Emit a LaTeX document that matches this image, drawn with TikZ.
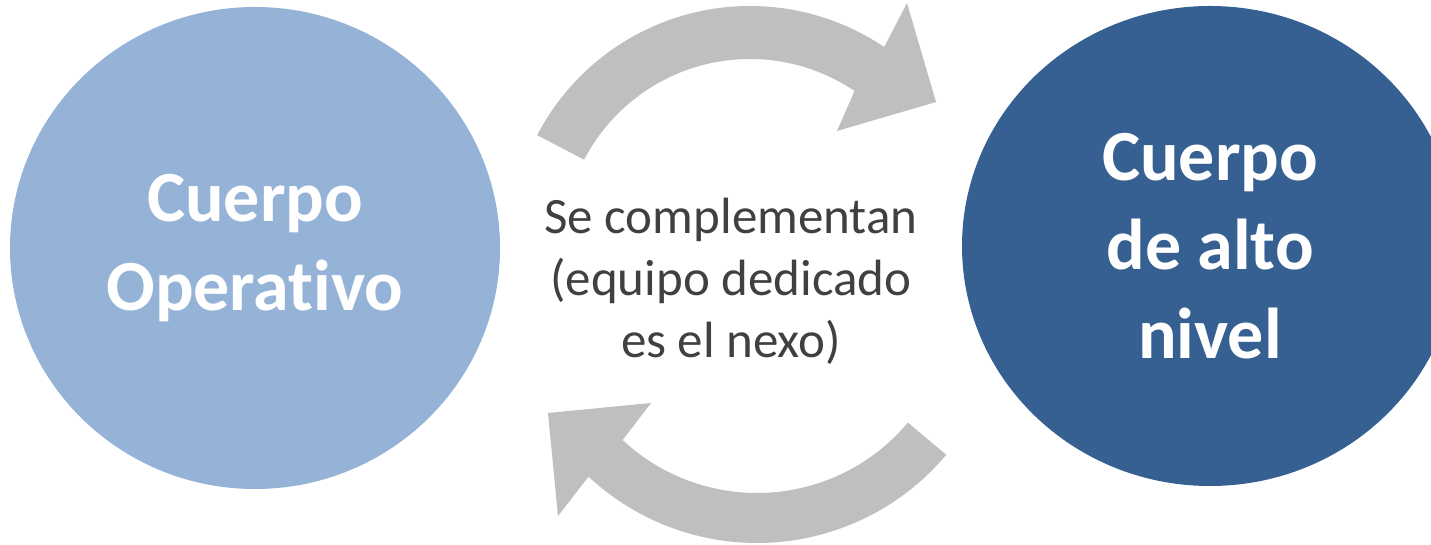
\documentclass[tikz,border=0pt]{standalone}
\usepackage{fontspec}
\setmainfont{Carlito}[Ligatures={NoCommon}]
\usepackage{tikz}
\usetikzlibrary{calc,shapes.geometric}

\definecolor{opblue}{HTML}{95B3D7}
\definecolor{altoblue}{HTML}{376092}
\definecolor{arrowgray}{HTML}{BFBFBF}
\definecolor{textgray}{HTML}{404040}

\begin{document}
\begin{tikzpicture}[x=1pt, y=1pt,
    cuerpo/.style={ellipse, fill=#1, draw=none, text=white, align=center,
        inner sep=0pt, font=\fontsize{72}{89}\selectfont\bfseries},
    nexo/.style={text=textgray, align=center, inner sep=0pt,
        font=\fontsize{51}{62}\selectfont}]
        \useasboundingbox (0,0) rectangle (1431,545);
        \clip (0,0) rectangle (1431,545);

        \node[cuerpo=opblue, minimum width=490pt, minimum height=482pt] (op) at (255,297) {Cuerpo\\Operativo};
        \node[cuerpo=altoblue, minimum width=496pt, minimum height=480pt] (alto) at (1210,299) {Cuerpo\\de alto\\nivel};
        \node[nexo] (texto) at (731,264) {Se complementan\\(equipo dedicado\\es el nexo)};

        % flechas curvas
        \coordinate (topc) at (750,299);
        \coordinate (botc) at (757,249);
        \fill[arrowgray] ($(topc)+(152.5:240pt)$) arc[start angle=152.5, end angle=56, radius=240pt]
            -- (907,542) -- (936,443) -- (837,414)
            -- ($(topc)+(56:187pt)$) arc[start angle=56, end angle=152.5, radius=187pt] -- cycle;
        \fill[arrowgray] ($(botc)+(-40:247pt)$) arc[start angle=-40, end angle=-133, radius=247pt]
            -- (558,29) -- (548,132) -- (651,142)
            -- ($(botc)+(-133:197pt)$) arc[start angle=-133, end angle=-40, radius=197pt] -- cycle;
    \end{tikzpicture}
\end{document}
